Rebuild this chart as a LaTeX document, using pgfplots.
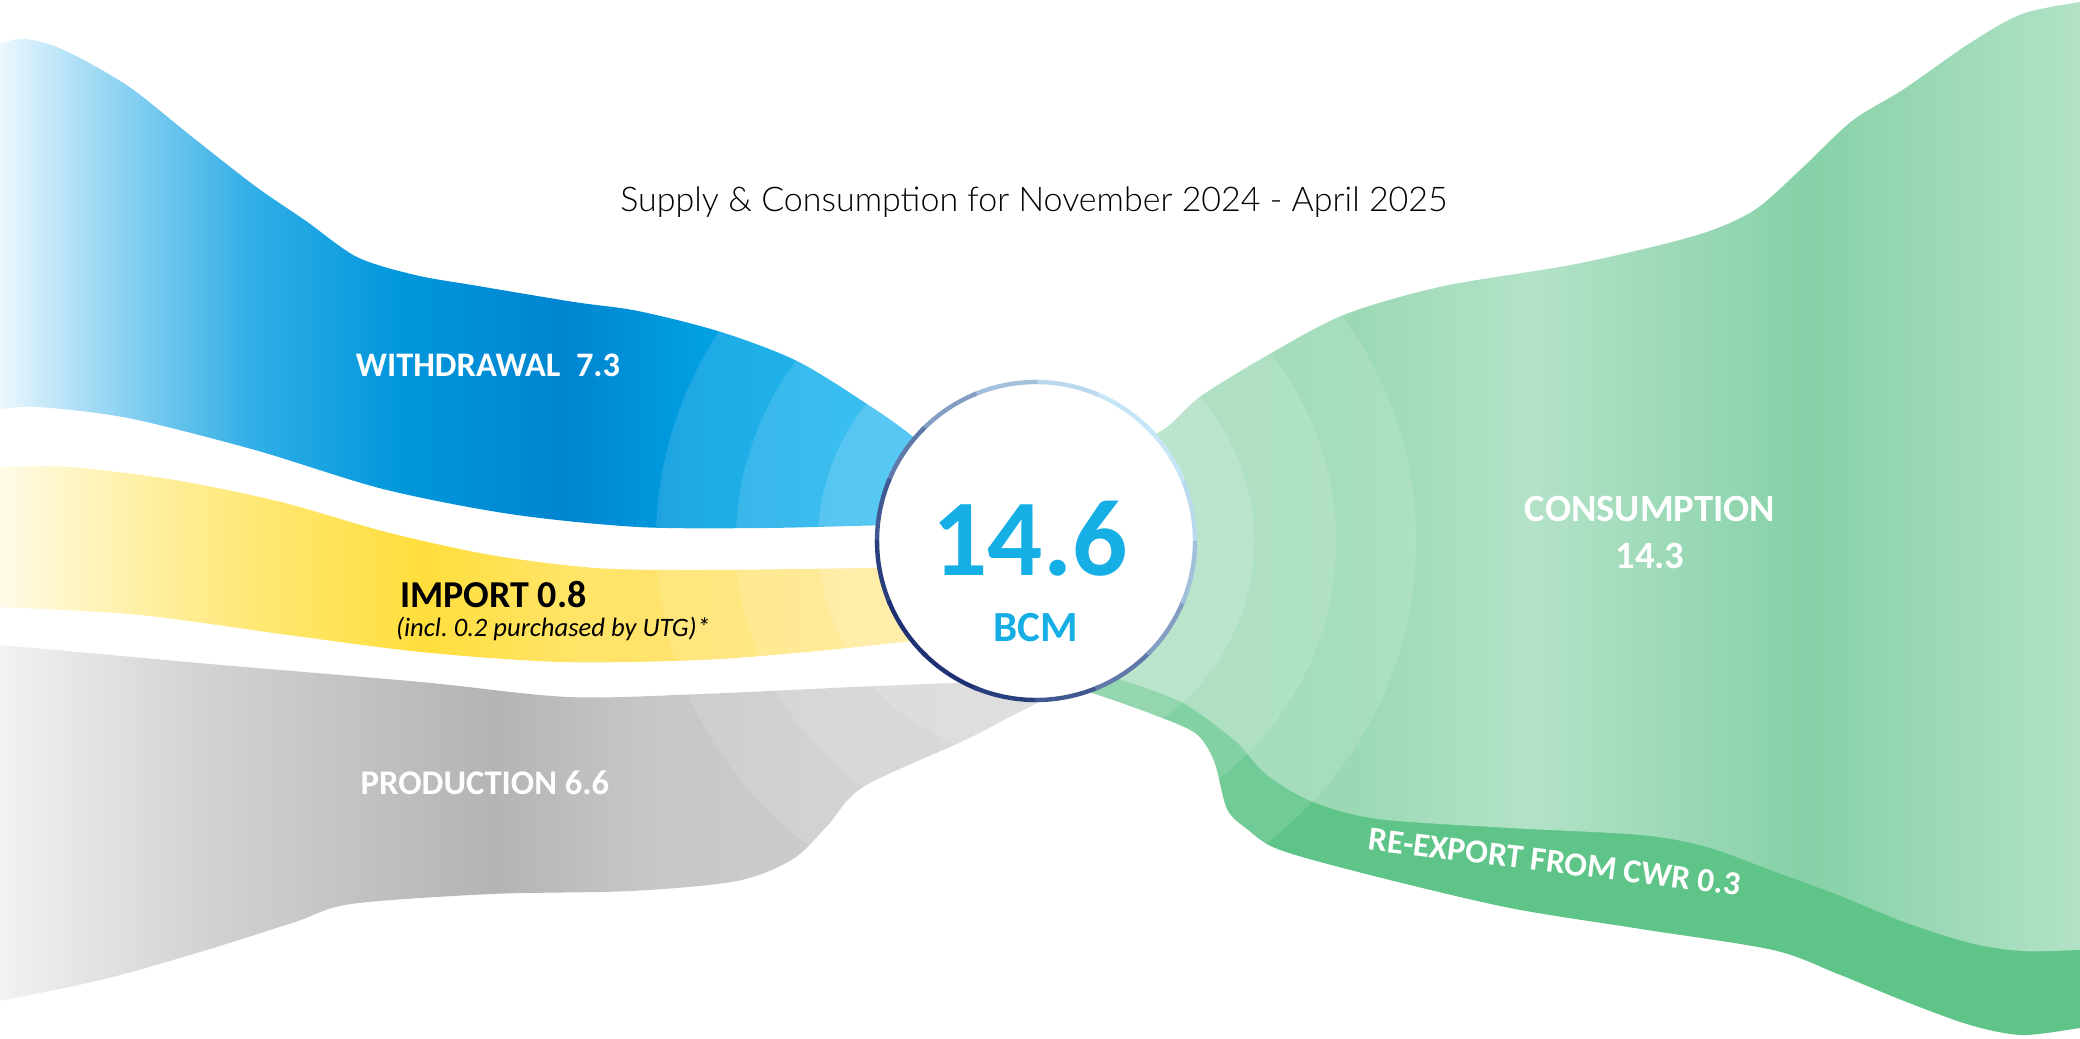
\documentclass[border=0pt]{standalone}
\usepackage{fontspec}
\setmainfont{Carlito}
\newfontfamily\titlefont{Lato}[UprightFont=* Light]
\usepackage{pgfplots}
\pgfplotsset{compat=1.18}

% colours
\definecolor{bcm}{HTML}{15AEE5}
\definecolor{reexp}{HTML}{5EC488}
\definecolor{ringlight}{HTML}{C8E8F8}
\definecolor{ringdark}{HTML}{1B2F72}

% horizontal gradients of the flows (stops between 25bp and 75bp span the band)
\pgfdeclarehorizontalshading{wdshade}{100bp}{%
  color(0bp)=(rgb,255:red,236;green,247;blue,253); color(26bp)=(rgb,255:red,236;green,247;blue,253);
  color(32.1bp)=(rgb,255:red,140;green,210;blue,242);
  color(38.8bp)=(rgb,255:red,48;green,174;blue,230);
  color(46.4bp)=(rgb,255:red,0;green,150;blue,220);
  color(54.6bp)=(rgb,255:red,0;green,133;blue,208);
  color(61.7bp)=(rgb,255:red,0;green,160;blue,226);
  color(70.9bp)=(rgb,255:red,0;green,174;blue,239);
  color(100bp)=(rgb,255:red,0;green,174;blue,239)}
\pgfdeclarehorizontalshading{imshade}{100bp}{%
  color(0bp)=(rgb,255:red,255;green,251;blue,232); color(26bp)=(rgb,255:red,255;green,251;blue,232);
  color(33.7bp)=(rgb,255:red,255;green,239;blue,160);
  color(40.3bp)=(rgb,255:red,255;green,230;blue,106);
  color(47.4bp)=(rgb,255:red,255;green,222;blue,60);
  color(54.6bp)=(rgb,255:red,255;green,228;blue,102);
  color(61.7bp)=(rgb,255:red,255;green,227;blue,110);
  color(70.9bp)=(rgb,255:red,255;green,230;blue,128);
  color(100bp)=(rgb,255:red,255;green,230;blue,128)}
\pgfdeclarehorizontalshading{prshade}{100bp}{%
  color(0bp)=(rgb,255:red,244;green,244;blue,244); color(25.9bp)=(rgb,255:red,244;green,244;blue,244);
  color(35.2bp)=(rgb,255:red,212;green,212;blue,212);
  color(42.1bp)=(rgb,255:red,196;green,196;blue,196);
  color(49.3bp)=(rgb,255:red,180;green,180;blue,180);
  color(56bp)=(rgb,255:red,198;green,198;blue,198);
  color(65.3bp)=(rgb,255:red,205;green,205;blue,205);
  color(74.1bp)=(rgb,255:red,208;green,208;blue,208);
  color(100bp)=(rgb,255:red,208;green,208;blue,208)}
\pgfdeclarehorizontalshading{coshade}{100bp}{%
  color(0bp)=(rgb,255:red,152;green,216;blue,178); color(31.7bp)=(rgb,255:red,152;green,216;blue,178);
  color(38.8bp)=(rgb,255:red,154;green,217;blue,180);
  color(47.6bp)=(rgb,255:red,179;green,226;blue,200);
  color(60.8bp)=(rgb,255:red,134;green,209;blue,167);
  color(74bp)=(rgb,255:red,178;green,226;blue,198);
  color(100bp)=(rgb,255:red,178;green,226;blue,198)}

\begin{document}
\begin{tikzpicture}
\begin{axis}[
    scale only axis,
    width=1040pt, height=519pt,
    xmin=0, xmax=2080, ymin=0, ymax=1038,
    y dir=reverse,
    hide axis,
    clip=true
]
% WITHDRAWAL 7.3
\addplot[draw=none, shade, shading=wdshade, smooth, tension=0.5] coordinates {
  (-20,45) (0,43) (26,39) (64,50) (128,86) (191,136) (255,186) (306,221) (357,257)
  (415,275) (478,286) (574,302) (638,311) (721,332) (797,361) (867,404) (912,436) (960,480)
  (960,525) (893,525) (765,528) (638,527) (510,514) (383,489) (255,450) (128,418)
  (38,407) (0,409) (-20,410)} -- cycle;
% IMPORT 0.8
\addplot[draw=none, shade, shading=imshade, smooth, tension=0.5] coordinates {
  (-20,467) (0,467) (70,467) (175,480) (281,502) (386,532) (491,555) (596,568)
  (701,570) (877,568) (960,568)
  (960,635) (912,641) (807,652) (701,660) (561,662) (421,652) (281,634) (140,615)
  (0,607) (-20,607)} -- cycle;
% PRODUCTION 6.6
\addplot[draw=none, shade, shading=prshade, smooth, tension=0.5] coordinates {
  (-20,645) (0,645) (210,664) (421,682) (568,697) (701,694) (877,686) (982,683) (1050,692)
  (1000,722) (961,742) (863,787) (828,825) (793,859) (737,881) (631,891) (491,894)
  (351,904) (295,922) (210,949) (105,979) (0,1001) (-20,1005)} -- cycle;
% RE-EXPORT FROM CWR 0.3
\addplot[draw=none, fill=reexp, smooth, tension=0.5] coordinates {
  (1060,672) (1116,672) (1181,696) (1234,734) (1267,769) (1313,796) (1378,813)
  (1510,822) (1641,829) (1707,841) (1773,865) (1838,889) (1904,916) (1970,937)
  (2022,945) (2080,944) (2100,944)
  (2100,1025) (2080,1028) (2022,1035) (1970,1025) (1904,1001) (1838,974) (1773,950)
  (1641,929) (1510,908) (1378,877) (1280,850) (1247,829) (1227,809) (1214,761)
  (1195,733) (1149,713) (1089,692) (1060,685)} -- cycle;
% CONSUMPTION 14.3
\addplot[draw=none, shade, shading=coshade, smooth, tension=0.5] coordinates {
  (1080,440) (1155,434) (1201,396) (1273,352) (1346,314) (1444,286) (1576,264)
  (1694,236) (1753,211) (1799,171) (1852,121) (1904,89) (1970,43) (2022,14)
  (2080,2) (2100,0)
  (2100,950) (2080,950) (2022,951) (1970,943) (1904,922) (1838,895) (1773,871)
  (1707,847) (1641,835) (1510,828) (1378,819) (1313,802) (1267,775) (1234,740)
  (1181,702) (1116,678) (1060,660)} -- cycle;

% light rings round the hub
\fill[white, fill opacity=0.12] (axis cs:1036,541) circle[radius=190pt];
\fill[white, fill opacity=0.12] (axis cs:1036,541) circle[radius=150pt];
\fill[white, fill opacity=0.15] (axis cs:1036,541) circle[radius=109pt];
% hub: white disc with a rim that darkens towards the lower left
\fill[white] (axis cs:1036,541) circle[radius=80pt];
\begin{scope}[line width=2.2pt]
\draw[ringdark!8!ringlight]  (axis cs:1036,541) ++(-1:79.5pt)   arc[start angle=-1,    end angle=23.5,  radius=79.5pt];
\draw[ringdark!1!ringlight]  (axis cs:1036,541) ++(22:79.5pt)   arc[start angle=22,    end angle=46,    radius=79.5pt];
\draw[ringdark!1!ringlight]  (axis cs:1036,541) ++(44.5:79.5pt) arc[start angle=44.5,  end angle=68.5,  radius=79.5pt];
\draw[ringdark!8!ringlight]  (axis cs:1036,541) ++(67:79.5pt)   arc[start angle=67,    end angle=91,    radius=79.5pt];
\draw[ringdark!22!ringlight] (axis cs:1036,541) ++(89.5:79.5pt) arc[start angle=89.5,  end angle=113.5, radius=79.5pt];
\draw[ringdark!40!ringlight] (axis cs:1036,541) ++(112:79.5pt)  arc[start angle=112,   end angle=136,   radius=79.5pt];
\draw[ringdark!60!ringlight] (axis cs:1036,541) ++(134.5:79.5pt) arc[start angle=134.5, end angle=158.5, radius=79.5pt];
\draw[ringdark!78!ringlight] (axis cs:1036,541) ++(157:79.5pt)  arc[start angle=157,   end angle=181,   radius=79.5pt];
\draw[ringdark!92!ringlight] (axis cs:1036,541) ++(179.5:79.5pt) arc[start angle=179.5, end angle=203.5, radius=79.5pt];
\draw[ringdark!99!ringlight] (axis cs:1036,541) ++(202:79.5pt)  arc[start angle=202,   end angle=226,   radius=79.5pt];
\draw[ringdark!99!ringlight] (axis cs:1036,541) ++(224.5:79.5pt) arc[start angle=224.5, end angle=248.5, radius=79.5pt];
\draw[ringdark!92!ringlight] (axis cs:1036,541) ++(247:79.5pt)  arc[start angle=247,   end angle=271,   radius=79.5pt];
\draw[ringdark!78!ringlight] (axis cs:1036,541) ++(269.5:79.5pt) arc[start angle=269.5, end angle=293.5, radius=79.5pt];
\draw[ringdark!60!ringlight] (axis cs:1036,541) ++(292:79.5pt)  arc[start angle=292,   end angle=316,   radius=79.5pt];
\draw[ringdark!40!ringlight] (axis cs:1036,541) ++(314.5:79.5pt) arc[start angle=314.5, end angle=338.5, radius=79.5pt];
\draw[ringdark!22!ringlight] (axis cs:1036,541) ++(337:79.5pt)  arc[start angle=337,   end angle=360,   radius=79.5pt];
\end{scope}

\node[font=\titlefont\fontsize{17}{19}\selectfont, text=black] at (axis cs:1034,202) {Supply \& Consumption for November 2024 - April 2025};
\node[font=\bfseries\fontsize{17.2}{19}\selectfont, text=white] at (axis cs:488,365) {WITHDRAWAL\ \ 7.3};
\node[font=\bfseries\fontsize{19}{21}\selectfont, text=black, anchor=base west] at (axis cs:393,607) {IMPORT 0.8};
\node[font=\itshape\fontsize{13.3}{15}\selectfont, text=black, anchor=base west] at (axis cs:389,636) {(incl.\ 0.2 purchased by UTG)*};
\node[font=\bfseries\fontsize{17.3}{19}\selectfont, text=white] at (axis cs:485,783) {PRODUCTION 6.6};
\node[font=\bfseries\fontsize{19.3}{21}\selectfont, text=white] at (axis cs:1650,509) {CONSUMPTION};
\node[font=\bfseries\fontsize{19.3}{21}\selectfont, text=white] at (axis cs:1650,556) {14.3};
\node[font=\bfseries\fontsize{16.8}{18}\selectfont, text=white, rotate=-7] at (axis cs:1555,862) {RE-EXPORT FROM CWR 0.3};
\node[font=\bfseries\fontsize{54.5}{58}\selectfont, text=bcm] at (axis cs:1030,539) {14.6};
\node[font=\bfseries\fontsize{21.5}{24}\selectfont, text=bcm] at (axis cs:1036,628) {BCM};
\end{axis}
\pgfresetboundingbox
\path (current axis.south west) rectangle (current axis.north east);
\end{tikzpicture}
\end{document}
